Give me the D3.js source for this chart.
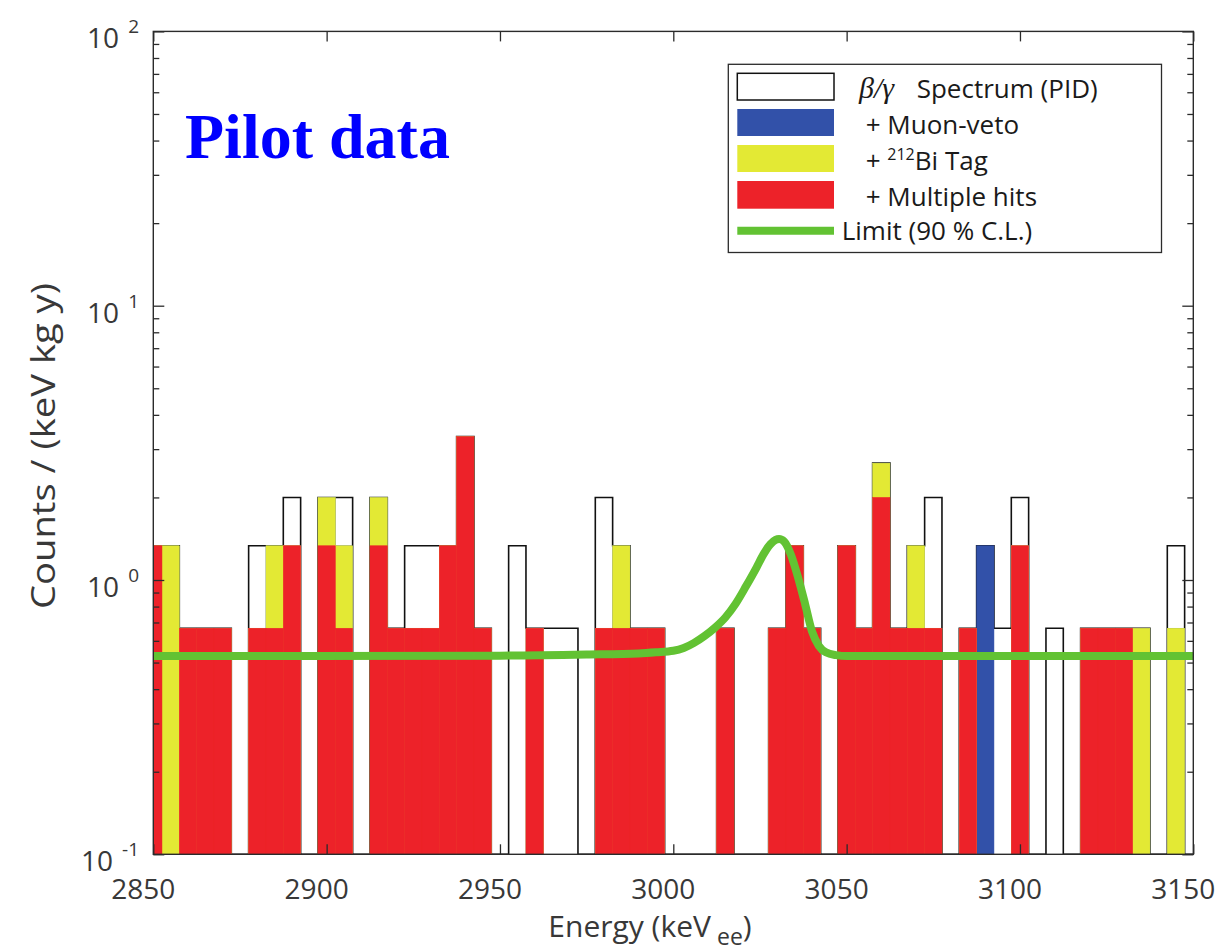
<!DOCTYPE html>
<html>
<head>
<meta charset="utf-8">
<script src="https://cdn.jsdelivr.net/npm/d3@7"></script>
<style>
  html, body { margin: 0; padding: 0; background: #ffffff; }
  svg { display: block; }
</style>
</head>
<body>
<svg id="chart" width="1220" height="951"></svg>
<script>
// Bin centres (keV), 5 keV wide bins
const energyBins = [
  2850, 2855, 2860, 2865, 2870, 2875, 2880, 2885, 2890, 2895,
  2900, 2905, 2910, 2915, 2920, 2925, 2930, 2935, 2940, 2945,
  2950, 2955, 2960, 2965, 2970, 2975, 2980, 2985, 2990, 2995,
  3000, 3005, 3010, 3015, 3020, 3025, 3030, 3035, 3040, 3045,
  3050, 3055, 3060, 3065, 3070, 3075, 3080, 3085, 3090, 3095,
  3100, 3105, 3110, 3115, 3120, 3125, 3130, 3135, 3140, 3145,
  3150
];

// Counts / (keV kg y) after each selection step
const spectrumPID = [
  1.333, 1.333, 0.667, 0.667, 0.667, 0, 1.333, 1.333, 2, 0,
  2, 2, 0, 2, 0.667, 1.333, 1.333, 1.333, 3.333, 0.667,
  0, 1.333, 0.667, 0.667, 0.667, 0, 2, 1.333, 0.667, 0.667,
  0, 0, 0, 0.667, 0, 0, 0.667, 1.333, 0.667, 0,
  1.333, 0.667, 2.667, 0.667, 1.333, 2, 0, 0.667, 1.333, 0.667,
  2, 0, 0.667, 0, 0.667, 0.667, 0.667, 0.667, 0, 1.333,
  0
];
const muonVeto = [
  1.333, 1.333, 0.667, 0.667, 0.667, 0, 0.667, 1.333, 1.333, 0,
  2, 1.333, 0, 2, 0.667, 0.667, 0.667, 1.333, 3.333, 0.667,
  0, 0, 0.667, 0, 0, 0, 0.667, 1.333, 0.667, 0.667,
  0, 0, 0, 0.667, 0, 0, 0.667, 1.333, 0.667, 0,
  1.333, 0.667, 2.667, 0.667, 1.333, 0.667, 0, 0.667, 1.333, 0,
  1.333, 0, 0, 0, 0.667, 0.667, 0.667, 0.667, 0, 0.667,
  0
];
const biTag = [
  1.333, 1.333, 0.667, 0.667, 0.667, 0, 0.667, 1.333, 1.333, 0,
  2, 1.333, 0, 2, 0.667, 0.667, 0.667, 1.333, 3.333, 0.667,
  0, 0, 0.667, 0, 0, 0, 0.667, 1.333, 0.667, 0.667,
  0, 0, 0, 0.667, 0, 0, 0.667, 1.333, 0.667, 0,
  1.333, 0.667, 2.667, 0.667, 1.333, 0.667, 0, 0.667, 0, 0,
  1.333, 0, 0, 0, 0.667, 0.667, 0.667, 0.667, 0, 0.667,
  0
];
const multipleHits = [
  1.333, 0, 0.667, 0.667, 0.667, 0, 0.667, 0.667, 1.333, 0,
  1.333, 0.667, 0, 1.333, 0.667, 0.667, 0.667, 1.333, 3.333, 0.667,
  0, 0, 0.667, 0, 0, 0, 0.667, 0.667, 0.667, 0.667,
  0, 0, 0, 0.667, 0, 0, 0.667, 1.333, 0.667, 0,
  1.333, 0.667, 2, 0.667, 0.667, 0.667, 0, 0.667, 0, 0,
  1.333, 0, 0, 0, 0.667, 0.667, 0.667, 0, 0, 0,
  0
];

// 90 % C.L. limit curve
const limitEnergy = [
  2850, 2950, 2975, 2990, 2995, 3000, 3003, 3006, 3009, 3012,
  3015, 3018, 3021, 3024, 3026, 3028, 3029.5, 3030.5, 3032, 3034,
  3036, 3038, 3040, 3042, 3044, 3047, 3050, 3150
];
const limitValue = [
  0.528, 0.530, 0.535, 0.540, 0.545, 0.552, 0.565, 0.590, 0.625, 0.670,
  0.730, 0.820, 0.950, 1.11, 1.24, 1.35, 1.40, 1.41, 1.38, 1.23,
  1.02, 0.82, 0.65, 0.575, 0.545, 0.532, 0.528, 0.528
];

const xTicks = [2850, 2900, 2950, 3000, 3050, 3100, 3150];
const yDecades = [0.1, 1, 10, 100];
const yExponents = ["-1", "0", "1", "2"];

const binWidth = 5;
const colors = {
  axis: "#2b2b2b",
  text: "#383838",
  blue: "#3251a9",
  yellow: "#e3e934",
  red: "#ed2229",
  green: "#62c233"
};

const svg = d3.select("#chart");
const plot = { left: 153.3, right: 1193.3, top: 31.4, bottom: 854.3 };

const x = d3.scaleLinear().domain([2850, 3150]).range([plot.left, plot.right]);
const y = d3.scaleLog().domain([0.1, 100]).range([plot.bottom, plot.top]);
const yv = v => y(Math.max(v, 0.1));

svg.append("rect").attr("width", 1220).attr("height", 951).attr("fill", "#ffffff");

svg.append("defs").append("clipPath").attr("id", "plot-clip")
  .append("rect")
  .attr("x", plot.left).attr("y", plot.top)
  .attr("width", plot.right - plot.left).attr("height", plot.bottom - plot.top);

const g = svg.append("g").attr("clip-path", "url(#plot-clip)");

// Total PID spectrum as a stepped outline
const stepPts = energyBins.map((e, i) => ({ e: e - binWidth / 2, v: spectrumPID[i] }));
stepPts.push({ e: energyBins[energyBins.length - 1] + binWidth / 2, v: 0 });
const stepLine = d3.line()
  .x(d => x(d.e))
  .y(d => yv(d.v))
  .curve(d3.curveStepAfter);
g.append("path")
  .attr("d", stepLine(stepPts))
  .attr("fill", "none")
  .attr("stroke", "#111111")
  .attr("stroke-width", 1.6);

// Filled histograms for each selection step
function drawBars(values, fill) {
  const data = energyBins.map((e, i) => ({ e, v: values[i] })).filter(d => d.v > 0);
  g.append("g").selectAll("rect")
    .data(data)
    .join("rect")
    .attr("x", d => x(d.e - binWidth / 2))
    .attr("width", d => x(d.e + binWidth / 2) - x(d.e - binWidth / 2))
    .attr("y", d => yv(d.v))
    .attr("height", d => plot.bottom - yv(d.v))
    .attr("fill", fill)
    .attr("stroke", fill)
    .attr("stroke-width", 0.5);
}
drawBars(muonVeto, colors.blue);
drawBars(biTag, colors.yellow);
drawBars(multipleHits, colors.red);

// Limit curve
const limitPts = limitEnergy.map((e, i) => ({ e, v: limitValue[i] }));
g.append("path")
  .attr("d", d3.line().x(d => x(d.e)).y(d => y(d.v)).curve(d3.curveMonotoneX)(limitPts))
  .attr("fill", "none")
  .attr("stroke", colors.green)
  .attr("stroke-width", 8)
  .attr("stroke-linejoin", "round")
  .attr("stroke-linecap", "butt");

// Axes: ticks point inward on all four sides
const minorTicks = [];
[0.1, 1, 10].forEach(d => { for (let m = 2; m <= 9; m++) minorTicks.push(d * m); });

function styleAxis(sel) {
  sel.select(".domain").remove();
  sel.selectAll(".tick line").attr("stroke", colors.axis).attr("stroke-width", 1.3);
  sel.selectAll(".tick text").remove();
}

svg.append("g").attr("transform", `translate(0,${plot.bottom})`)
  .call(d3.axisBottom(x).tickValues(xTicks).tickSize(-10)).call(styleAxis);
svg.append("g").attr("transform", `translate(0,${plot.top})`)
  .call(d3.axisTop(x).tickValues(xTicks).tickSize(-10)).call(styleAxis);
svg.append("g").attr("transform", `translate(${plot.left},0)`)
  .call(d3.axisLeft(y).tickValues(yDecades).tickSize(-11)).call(styleAxis);
svg.append("g").attr("transform", `translate(${plot.left},0)`)
  .call(d3.axisLeft(y).tickValues(minorTicks).tickSize(-6)).call(styleAxis);
svg.append("g").attr("transform", `translate(${plot.right},0)`)
  .call(d3.axisRight(y).tickValues(yDecades).tickSize(-11)).call(styleAxis);
svg.append("g").attr("transform", `translate(${plot.right},0)`)
  .call(d3.axisRight(y).tickValues(minorTicks).tickSize(-6)).call(styleAxis);

svg.append("rect")
  .attr("x", plot.left).attr("y", plot.top)
  .attr("width", plot.right - plot.left).attr("height", plot.bottom - plot.top)
  .attr("fill", "none").attr("stroke", colors.axis).attr("stroke-width", 1.4);

const font = "'Open Sans', 'Liberation Sans', sans-serif";

// X tick labels (set slightly left of their ticks)
svg.append("g").selectAll("text")
  .data(xTicks)
  .join("text")
  .attr("x", d => x(d) - 10)
  .attr("y", plot.bottom + 45)
  .attr("text-anchor", "middle")
  .attr("font-family", font)
  .attr("font-size", 28)
  .attr("fill", colors.text)
  .text(d => d);

// Y tick labels: 10 with a raised exponent
const yLab = svg.append("g").selectAll("text")
  .data(yDecades)
  .join("text")
  .attr("x", 139)
  .attr("y", d => y(d) + 17)
  .attr("text-anchor", "end")
  .attr("font-family", font)
  .attr("font-size", 28)
  .attr("fill", colors.text);
yLab.append("tspan").text("10");
yLab.append("tspan")
  .attr("dx", 9)
  .attr("dy", -15)
  .attr("font-size", 19)
  .text((d, i) => yExponents[i]);

// Axis titles
svg.append("text")
  .attr("transform", "translate(55,446) rotate(-90)")
  .attr("text-anchor", "middle")
  .attr("font-family", font)
  .attr("font-size", 32)
  .attr("textLength", 326)
  .attr("lengthAdjust", "spacingAndGlyphs")
  .attr("fill", colors.text)
  .text("Counts / (keV kg y)");

const xTitle = svg.append("text")
  .attr("x", 650)
  .attr("y", 937)
  .attr("text-anchor", "middle")
  .attr("font-family", font)
  .attr("font-size", 30)
  .attr("fill", colors.text);
xTitle.append("tspan").text("Energy (keV");
xTitle.append("tspan").attr("dx", 6).attr("dy", 8).attr("font-size", 23).text("ee");
xTitle.append("tspan").attr("dy", -8).text(")");

// Panel label
svg.append("text")
  .attr("x", 185)
  .attr("y", 158)
  .attr("font-family", "'Liberation Serif', 'Times New Roman', serif")
  .attr("font-weight", "bold")
  .attr("font-size", 64)
  .attr("fill", "#0000ff")
  .text("Pilot data");

// Legend
const legend = svg.append("g");
legend.append("rect")
  .attr("x", 728.3).attr("y", 64.3).attr("width", 433.2).attr("height", 188.2)
  .attr("fill", "#ffffff").attr("stroke", colors.axis).attr("stroke-width", 1.3);

const swatchX = 737.3, swatchW = 96.7;
const swatches = [
  { y: 73.3, h: 26.7, fill: "#ffffff", stroke: "#111111" },
  { y: 109, h: 27, fill: colors.blue, stroke: "none" },
  { y: 145, h: 27, fill: colors.yellow, stroke: "none" },
  { y: 181, h: 27.7, fill: colors.red, stroke: "none" }
];
legend.selectAll("rect.sw")
  .data(swatches)
  .join("rect")
  .attr("class", "sw")
  .attr("x", swatchX).attr("y", d => d.y)
  .attr("width", swatchW).attr("height", d => d.h)
  .attr("fill", d => d.fill)
  .attr("stroke", d => d.stroke)
  .attr("stroke-width", 1.5);
legend.append("line")
  .attr("x1", swatchX).attr("x2", swatchX + swatchW)
  .attr("y1", 230.7).attr("y2", 230.7)
  .attr("stroke", colors.green).attr("stroke-width", 8);

function legText(xp, yp) {
  return legend.append("text")
    .attr("x", xp).attr("y", yp)
    .attr("font-family", font)
    .attr("font-size", 26)
    .attr("fill", "#1a1a1a");
}
const t1 = legText(859, 98.3);
t1.append("tspan")
  .attr("font-family", "'Liberation Serif', 'Times New Roman', serif")
  .attr("font-style", "italic")
  .attr("font-size", 30)
  .text("β/γ");
t1.append("tspan").attr("x", 916.7).text("Spectrum (PID)");
legText(865.7, 134).text("+ Muon-veto");
const t3 = legText(865.7, 170);
t3.append("tspan").text("+ ");
t3.append("tspan").attr("dy", -10).attr("font-size", 16).text("212");
t3.append("tspan").attr("dy", 10).text("Bi Tag");
legText(865.7, 205.7).text("+ Multiple hits");
legText(841.7, 240).text("Limit (90 % C.L.)");
</script>
</body>
</html>
